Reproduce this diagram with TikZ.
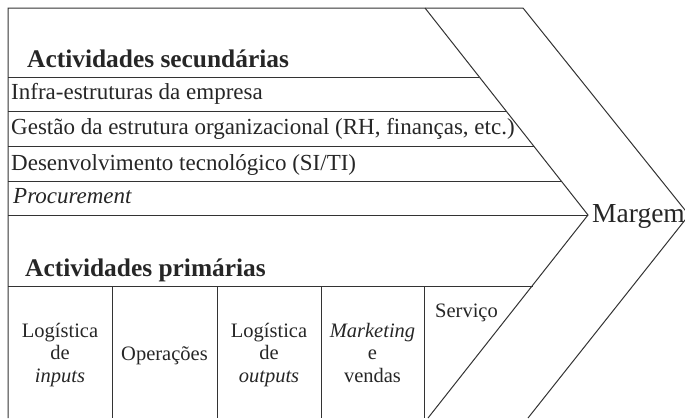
\documentclass[tikz,border=0pt]{standalone}
\usepackage{fontspec}
\setmainfont{Liberation Serif}
\tikzset{
  ln/.style={line width=1pt, draw=black!80},
  hdr/.style={inner sep=0pt, anchor=base west, font=\fontsize{25.4}{28}\selectfont\bfseries, text=black!85},
  rowtxt/.style={inner sep=0pt, anchor=base west, font=\fontsize{23}{27}\selectfont, text=black!85},
  celltxt/.style={inner sep=0pt, anchor=base, align=center, font=\fontsize{20.5}{22.5}\selectfont, text=black!85},
  mgtxt/.style={inner sep=0pt, anchor=base west, font=\fontsize{27.5}{30}\selectfont, text=black!85}
}
\begin{document}
\begin{tikzpicture}[x=1pt,y=-1pt]
\useasboundingbox (0,0) rectangle (685,418);
% frame coordinates
\coordinate (tl) at (8,8);
\coordinate (bl) at (8,418);
\coordinate (ti) at (425,8);
\coordinate (to) at (523,8);
\coordinate (tipi) at (588,215);
\coordinate (tipo) at (689,215);
\coordinate (bi) at (428,418);
\coordinate (bo) at (528,418);
\begin{scope}
\clip (0,0) rectangle (685,418);
\draw[ln] (bl) -- (tl) -- (to) -- (tipo) -- (bo);
\draw[ln] (ti) -- (tipi) -- (bi);
\end{scope}
% horizontal rows
\coordinate (l1) at (8,77);   \coordinate (r1) at (479,77);
\coordinate (l2) at (8,111);  \coordinate (r2) at (506,111);
\coordinate (l3) at (8,146);  \coordinate (r3) at (534,146);
\coordinate (l4) at (8,181);  \coordinate (r4) at (561,181);
\coordinate (l5) at (8,215);
\coordinate (l6) at (8,286);  \coordinate (r6) at (533,286);
\draw[ln] (l1) -- (r1);
\draw[ln] (l2) -- (r2);
\draw[ln] (l3) -- (r3);
\draw[ln] (l4) -- (r4);
\draw[ln] (l5) -- (tipi);
\draw[ln] (l6) -- (r6);
% column separators
\foreach \x/\n in {112/a,217/b,321/c,424/d}{
  \coordinate (ct\n) at (\x,286);
  \coordinate (cb\n) at (\x,418);
  \draw[ln] (ct\n) -- (cb\n);
}
% texts
\node[hdr] (sec) at (27,67) {Actividades secundárias};
\node[rowtxt] (infra) at (11,99) {Infra-estruturas da empresa};
\node[rowtxt] (gest) at (11,134) {Gestão da estrutura organizacional (RH, finanças, etc.)};
\node[rowtxt] (desen) at (11,170) {Desenvolvimento tecnológico (SI/TI)};
\node[rowtxt] (proc) at (13,203) {\itshape Procurement};
\node[hdr] (prim) at (25,276) {Actividades primárias};
\node[celltxt] (log1) at (60,382) {Logística\\de\\\itshape inputs};
\node[celltxt] (oper) at (164.5,360) {Operações};
\node[celltxt] (log2) at (269,382) {Logística\\de\\\itshape outputs};
\node[celltxt] (mkt) at (372.5,382) {\itshape Marketing\\e\\vendas};
\node[celltxt, anchor=base west] (serv) at (435,317) {Serviço};
\node[mgtxt] (mg) at (592,222) {Margem};
\end{tikzpicture}
\end{document}
